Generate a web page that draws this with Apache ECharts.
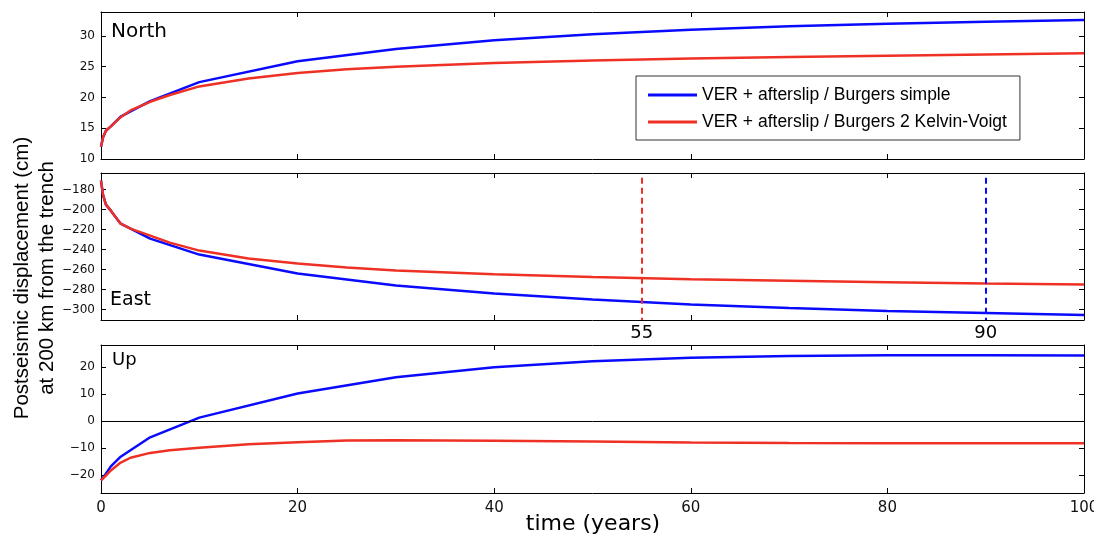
<!DOCTYPE html>
<html lang="en">
<head>
<meta charset="UTF-8">
<title>Postseismic displacement</title>
<script src="https://cdn.jsdelivr.net/npm/echarts@6/dist/echarts.min.js"></script>
<style>
  html, body { margin: 0; padding: 0; background: #fff; }
  #main { width: 1094px; height: 537px; }
</style>
</head>
<body>
<div id="main"></div>
<script>
// time samples (years)
var blueTime = [0, 0.2, 0.5, 1, 2, 5, 10, 20, 30, 40, 50, 60, 70, 80, 90, 100];
var redTime = [0, 0.2, 0.5, 1, 2, 3, 5, 7, 10, 15, 20, 25, 30, 40, 50, 60, 70, 80, 90, 100];

// North (cm)
var northBlue = [12.0, 13.5, 14.6, 15.3, 16.9, 19.4, 22.5, 25.9, 27.9, 29.3, 30.3, 31.0, 31.6, 32.0, 32.3, 32.6];
var northRed = [12.0, 13.5, 14.6, 15.3, 16.8, 17.9, 19.3, 20.4, 21.8, 23.1, 24.0, 24.6, 25.0, 25.6, 26.0, 26.35, 26.6, 26.8, 27.0, 27.2];
// East (cm)
var eastBlue = [-171, -185, -195, -201, -214, -229, -245, -264, -276, -284, -290, -295, -298.5, -301.5, -303.5, -305.5];
var eastRed = [-171, -185, -195, -201, -214, -219, -226, -233, -241, -249, -254, -258, -261, -264.7, -267.5, -269.7, -271.3, -272.7, -274, -275];
// Up (cm)
var upBlue = [-22, -21, -19.5, -16.8, -13.2, -6, 1.3, 10.3, 16.3, 20.0, 22.3, 23.6, 24.2, 24.5, 24.5, 24.4];
var upRed = [-22, -21.3, -20.2, -18.3, -15.4, -13.6, -11.8, -10.8, -9.9, -8.6, -7.8, -7.2, -7.1, -7.3, -7.6, -7.9, -8.1, -8.2, -8.2, -8.2];

var northTicks = [10, 15, 20, 25, 30];
var eastTicks = [-300, -280, -260, -240, -220, -200, -180];
var upTicks = [-20, -10, 0, 10, 20];
var markYears = [55, 90];   // red, blue dashed lines in East panel

var blueName = 'VER + afterslip / Burgers simple';
var redName = 'VER + afterslip / Burgers 2 Kelvin-Voigt';
var BLUE = '#0a0aff', RED = '#ee3124';

function pairs(t, v) {
    return t.map(function (x, i) { return [x, v[i]]; });
}
function minus(v) { return String(v).replace('-', '\u2212'); }

function xAx(grid, pos, labels) {
    return {
        type: 'value', gridIndex: grid, position: pos, min: 0, max: 100, interval: 20,
        axisLine: {onZero: false, lineStyle: {color: '#000', width: 1}},
        axisTick: {inside: true, length: 5, lineStyle: {color: '#000'}},
        axisLabel: {show: labels, color: '#111', fontSize: 15, fontFamily: 'DejaVu Sans', margin: 8},
        splitLine: {show: false}
    };
}
function yAx(grid, pos, min, max, ticks) {
    return {
        type: 'value', gridIndex: grid, position: pos, min: min, max: max,
        axisLine: {onZero: false, lineStyle: {color: '#000', width: 1}},
        axisTick: {inside: true, length: 5, customValues: ticks, lineStyle: {color: '#000'}},
        axisLabel: {show: pos === 'left', customValues: ticks, color: '#111', fontSize: 12,
            fontFamily: 'DejaVu Sans', margin: 6, formatter: minus},
        splitLine: {show: false}
    };
}
function line(name, color, x, y, data, extra) {
    var s = {
        name: name, type: 'line', xAxisIndex: x, yAxisIndex: y, data: data,
        symbol: 'none', smooth: false, animation: false,
        lineStyle: {color: color, width: 2.5}, itemStyle: {color: color}
    };
    for (var k in extra) s[k] = extra[k];
    return s;
}

var chart = echarts.init(document.getElementById('main'), null, {renderer: 'canvas'});

chart.setOption({
    backgroundColor: '#fff',
    animation: false,
    grid: [
        {left: 101, top: 12, width: 983, height: 147, outerBoundsMode: 'none', containLabel: false},
        {left: 101, top: 173, width: 983, height: 147, outerBoundsMode: 'none', containLabel: false},
        {left: 101, top: 345, width: 983, height: 148, outerBoundsMode: 'none', containLabel: false}
    ],
    xAxis: [
        xAx(0, 'bottom', false), xAx(0, 'top', false),
        xAx(1, 'bottom', false), xAx(1, 'top', false),
        xAx(2, 'bottom', true), xAx(2, 'top', false)
    ],
    yAxis: [
        yAx(0, 'left', 10, 33.9, northTicks), yAx(0, 'right', 10, 33.9, northTicks),
        yAx(1, 'left', -310.5, -163.3, eastTicks), yAx(1, 'right', -310.5, -163.3, eastTicks),
        yAx(2, 'left', -26.7, 28.3, upTicks), yAx(2, 'right', -26.7, 28.3, upTicks)
    ],
    legend: {
        left: 636, top: 76, orient: 'vertical',
        data: [
            {name: blueName, icon: 'rect', itemStyle: {color: BLUE}},
            {name: redName, icon: 'rect', itemStyle: {color: RED}}
        ],
        itemWidth: 49, itemHeight: 3, itemGap: 9,
        padding: [10, 13, 9, 12],
        borderColor: '#333', borderWidth: 1, backgroundColor: '#fff',
        textStyle: {fontSize: 17.5, fontFamily: 'Liberation Sans', color: '#000'}
    },
    graphic: [
        {type: 'text', left: 111, top: 22, style: {text: 'North', fontSize: 20, fontFamily: 'DejaVu Sans', fill: '#000'}},
        {type: 'text', left: 110, top: 291, style: {text: 'East', fontSize: 19, fontFamily: 'DejaVu Sans', fill: '#000'}},
        {type: 'text', left: 112, top: 351, style: {text: 'Up', fontSize: 18, fontFamily: 'DejaVu Sans', fill: '#000'}},
        {type: 'text', x: 593, y: 524, style: {text: 'time (years)', fontSize: 22, fontFamily: 'DejaVu Sans',
            fill: '#000', align: 'center', verticalAlign: 'middle'}},
        {type: 'text', x: 22, y: 278, rotation: Math.PI / 2, style: {text: 'Postseismic displacement (cm)',
            fontSize: 20.5, fontFamily: 'Liberation Sans', fill: '#000', align: 'center', verticalAlign: 'middle'}},
        {type: 'text', x: 47, y: 278, rotation: Math.PI / 2, style: {text: 'at 200 km from the trench',
            fontSize: 20.5, fontFamily: 'Liberation Sans', fill: '#000', align: 'center', verticalAlign: 'middle'}}
    ],
    series: [
        line(blueName, BLUE, 0, 0, pairs(blueTime, northBlue)),
        line(redName, RED, 0, 0, pairs(redTime, northRed)),
        line(blueName, BLUE, 2, 2, pairs(blueTime, eastBlue), {
            markLine: {
                silent: true, symbol: 'none', animation: false,
                lineStyle: {color: BLUE, type: [6, 4], width: 2},
                label: {show: true, position: 'end', distance: 4, color: '#000', fontSize: 18,
                    fontFamily: 'DejaVu Sans', formatter: String(markYears[1])},
                data: [[{coord: [markYears[1], -168]}, {coord: [markYears[1], -310.5]}]]
            }
        }),
        line(redName, RED, 2, 2, pairs(redTime, eastRed), {
            markLine: {
                silent: true, symbol: 'none', animation: false,
                lineStyle: {color: RED, type: [6, 4], width: 2},
                label: {show: true, position: 'end', distance: 4, color: '#000', fontSize: 18,
                    fontFamily: 'DejaVu Sans', formatter: String(markYears[0])},
                data: [[{coord: [markYears[0], -168]}, {coord: [markYears[0], -310.5]}]]
            }
        }),
        line(blueName, BLUE, 4, 4, pairs(blueTime, upBlue), {
            markLine: {
                silent: true, symbol: 'none', animation: false,
                lineStyle: {color: '#000', type: 'solid', width: 1},
                label: {show: false},
                data: [{yAxis: 0}]
            }
        }),
        line(redName, RED, 4, 4, pairs(redTime, upRed))
    ]
});
</script>
</body>
</html>
